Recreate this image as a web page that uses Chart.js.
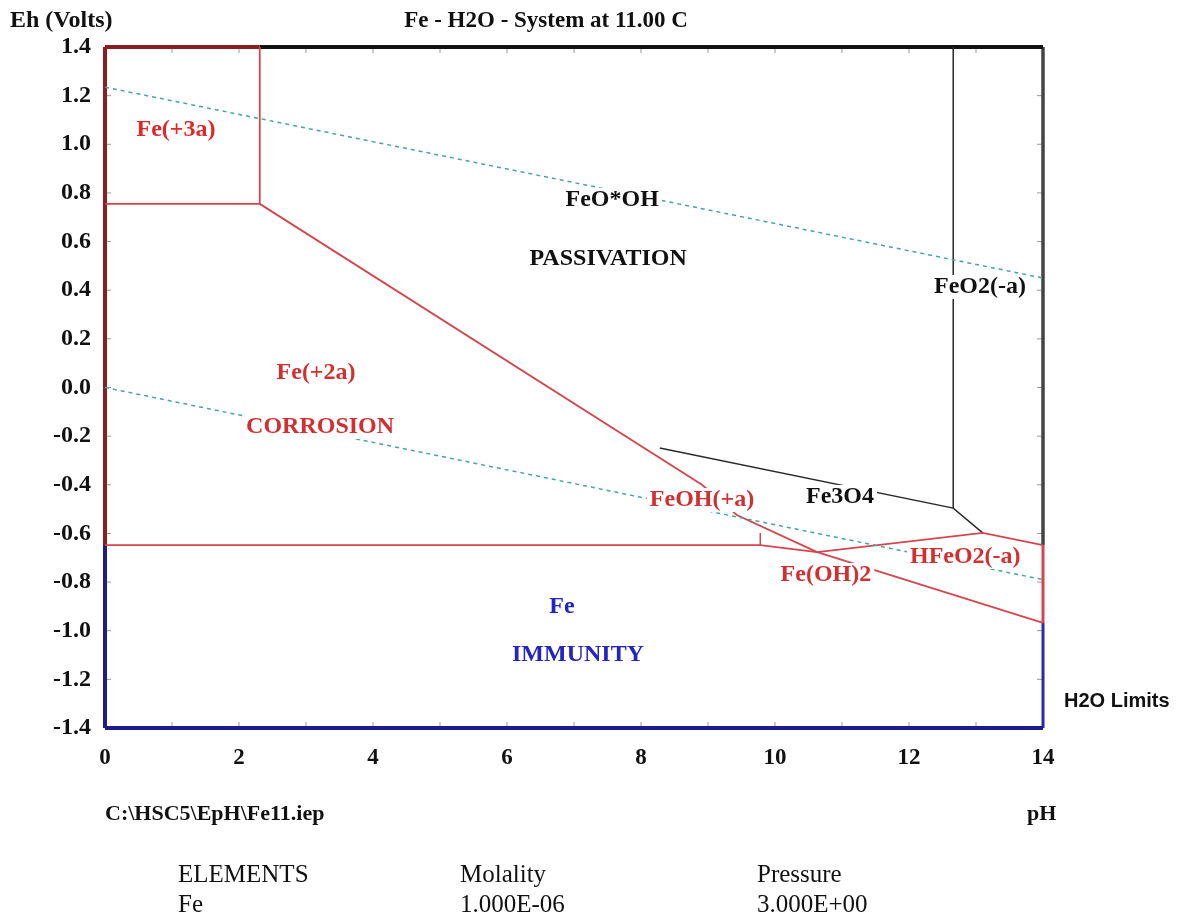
<!DOCTYPE html>
<html>
<head>
<meta charset="utf-8">
<script src="https://cdn.jsdelivr.net/npm/chart.js@4.4.1/dist/chart.umd.min.js"></script>
<style>
  html, body { margin: 0; padding: 0; background: #fff; }
  #wrap { position: relative; width: 1186px; height: 919px; }
</style>
</head>
<body>
<div id="wrap"><canvas id="pourbaix"></canvas></div>
<script>
// boundaries as [pH, Eh] pairs
const fe3Boundary = [[0, 0.755], [2.31, 0.755], [2.31, 1.4]];
const fe2Upper = [[2.31, 0.755], [8.91, -0.40], [9.43, -0.524], [10.63, -0.677]];
const fe2Lower = [[0, -0.648], [9.78, -0.648], [10.63, -0.677]];
const feohWall = [[9.78, -0.648], [9.78, -0.598]];
const feoh2Upper = [[10.63, -0.677], [13.1, -0.598], [14, -0.648]];
const feLower = [[10.63, -0.677], [14, -0.968]];
const fe3o4Upper = [[8.28, -0.249], [12.66, -0.496], [13.1, -0.598]];
const feo2Wall = [[12.66, 1.4], [12.66, -0.496]];
const h2oUpper = [[0, 1.235], [14, 0.45]];
const h2oLower = [[0, 0.0], [14, -0.79]];

// frame pieces, coloured by the region they belong to
const leftTop = [[0, 1.4], [0, -0.648]];
const leftBottom = [[0, -0.648], [0, -1.4]];
const bottomEdge = [[0, -1.4], [14, -1.4]];
const topLeft = [[0, 1.4], [2.31, 1.4]];
const topRight = [[2.31, 1.4], [14, 1.4]];
const rightTop = [[14, 1.4], [14, -0.648]];
const rightMid = [[14, -0.648], [14, -0.968]];
const rightBottom = [[14, -0.968], [14, -1.4]];

const pHTickMarks = [1, 2, 3, 4, 5, 6, 7, 8, 9, 10, 11, 12, 13];
const ehTickMarks = [-1.2, -1.0, -0.8, -0.6, -0.4, -0.2, 0, 0.2, 0.4, 0.6, 0.8, 1.0, 1.2];

const regionNames = ['Fe(+3a)', 'FeO*OH', 'PASSIVATION', 'FeO2(-a)', 'Fe(+2a)', 'CORROSION',
  'FeOH(+a)', 'Fe3O4', 'HFeO2(-a)', 'Fe(OH)2', 'Fe', 'IMMUNITY'];
const regionPH = [1.06, 7.57, 7.51, 13.06, 3.15, 3.21, 8.91, 10.97, 12.84, 10.76, 6.82, 7.06];
const regionEh = [1.059, 0.771, 0.528, 0.413, 0.060, -0.162, -0.463, -0.450, -0.697, -0.771, -0.903, -1.10];
const regionColors = ['#e02828', '#111', '#111', '#111', '#d23030', '#d23030',
  '#d23030', '#111', '#d23030', '#d23030', '#2424c0', '#2424c0'];

const RED = '#d4464e';
const SERIF = '"Liberation Serif", "Times New Roman", serif';

function pts(arr) {
  return arr.map(([x, y]) => ({ x, y }));
}

function line(arr, color, width, dash) {
  return {
    data: pts(arr),
    showLine: true,
    borderColor: color,
    borderWidth: width,
    borderDash: dash || [],
    pointRadius: 0,
    fill: false,
    clip: false
  };
}

const datasets = [
  line(h2oUpper, '#48a4a0', 1.5, [4, 4]),
  line(h2oLower, '#48a4a0', 1.5, [4, 4]),
  line(fe3Boundary, RED, 1.8),
  line(fe2Upper, RED, 1.8),
  line(fe2Lower, RED, 1.8),
  line(feohWall, RED, 1.5),
  line(feoh2Upper, RED, 1.8),
  line(feLower, RED, 1.8),
  line(fe3o4Upper, '#2a2a2a', 1.5),
  line(feo2Wall, '#2a2a2a', 1.5),
  line(leftTop, '#8a1e22', 4),
  line(leftBottom, '#1c1c8c', 4),
  line(bottomEdge, '#1c1c8c', 4),
  line(topLeft, '#8a1e22', 4),
  line(topRight, '#111', 4),
  line(rightTop, '#444', 3.5),
  line(rightMid, RED, 3),
  line(rightBottom, '#2a2ab0', 3)
];

// inward tick marks, region names with white boxes, and the loose texts
const decorations = {
  id: 'decorations',
  beforeDatasetsDraw(chart) {
    const { ctx, scales: { x, y }, chartArea: a } = chart;
    ctx.save();
    ctx.strokeStyle = '#999';
    ctx.lineWidth = 1;
    ctx.beginPath();
    pHTickMarks.forEach(v => {
      const px = x.getPixelForValue(v);
      ctx.moveTo(px, a.bottom); ctx.lineTo(px, a.bottom - 6);
      ctx.moveTo(px, a.top); ctx.lineTo(px, a.top + 6);
    });
    ehTickMarks.forEach(v => {
      const py = y.getPixelForValue(v);
      ctx.moveTo(a.left, py); ctx.lineTo(a.left + 6, py);
      ctx.moveTo(a.right, py); ctx.lineTo(a.right - 6, py);
    });
    ctx.stroke();
    ctx.restore();
  },
  afterDatasetsDraw(chart) {
    const { ctx, scales: { x, y } } = chart;
    ctx.save();
    ctx.font = 'bold 24px ' + SERIF;
    ctx.textAlign = 'center';
    ctx.textBaseline = 'middle';
    regionNames.forEach((name, i) => {
      const px = x.getPixelForValue(regionPH[i]);
      const py = y.getPixelForValue(regionEh[i]);
      const w = ctx.measureText(name).width;
      ctx.fillStyle = '#fff';
      ctx.fillRect(px - w / 2 - 3, py - 12, w + 6, 24);
      ctx.fillStyle = regionColors[i];
      ctx.fillText(name, px, py);
    });

    ctx.fillStyle = '#111';
    ctx.textBaseline = 'alphabetic';
    ctx.textAlign = 'left';
    ctx.font = 'bold 24px ' + SERIF;
    ctx.fillText('Eh (Volts)', 10, 27);
    ctx.font = 'bold 22px ' + SERIF;
    ctx.fillText('C:\\HSC5\\EpH\\Fe11.iep', 105, 820);
    ctx.fillText('pH', 1027, 820);
    ctx.font = 'bold 23px ' + SERIF;
    ctx.textAlign = 'center';
    ctx.fillText('Fe - H2O - System at 11.00 C', 546, 27);

    ctx.textAlign = 'left';
    ctx.font = 'bold 20px "Liberation Sans", Arial, sans-serif';
    ctx.fillText('H2O Limits', 1064, 707);

    ctx.font = '25px ' + SERIF;
    ctx.fillText('ELEMENTS', 178, 882);
    ctx.fillText('Molality', 460, 882);
    ctx.fillText('Pressure', 757, 882);
    ctx.fillText('Fe', 178, 912);
    ctx.fillText('1.000E-06', 460, 912);
    ctx.fillText('3.000E+00', 757, 912);
    ctx.restore();
  }
};

new Chart(document.getElementById('pourbaix'), {
  type: 'scatter',
  data: { datasets },
  options: {
    responsive: true,
    maintainAspectRatio: false,
    animation: false,
    layout: { padding: { left: 0, top: 47, right: 143, bottom: 0 } },
    plugins: {
      legend: { display: false },
      tooltip: { enabled: false }
    },
    scales: {
      x: {
        type: 'linear',
        min: 0,
        max: 14,
        border: { display: false },
        grid: { display: false, drawTicks: false },
        ticks: {
          stepSize: 2,
          padding: 16,
          color: '#111',
          font: { family: SERIF, size: 23, weight: 'bold' }
        },
        afterFit: (scale) => { scale.height = 919 - 728; }
      },
      y: {
        type: 'linear',
        min: -1.4,
        max: 1.4,
        border: { display: false },
        grid: { display: false, drawTicks: false },
        ticks: {
          stepSize: 0.2,
          padding: 14,
          color: '#111',
          font: { family: SERIF, size: 24, weight: 'bold' },
          callback: (v) => Number(v).toFixed(1)
        },
        afterFit: (scale) => { scale.width = 105; }
      }
    }
  },
  plugins: [decorations]
});
</script>
</body>
</html>
